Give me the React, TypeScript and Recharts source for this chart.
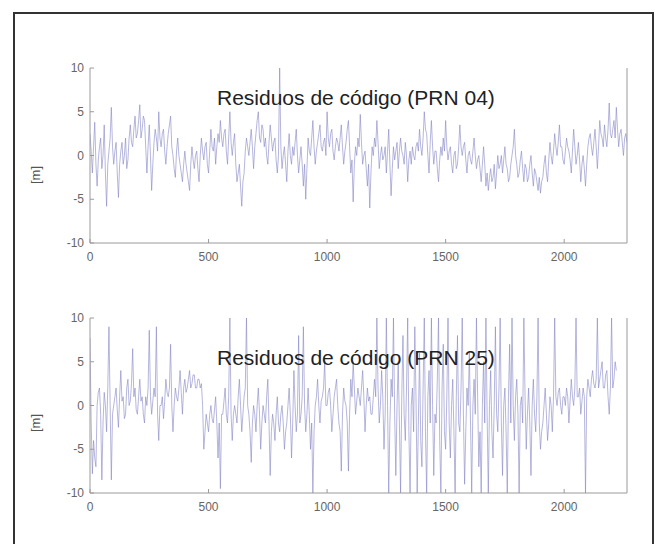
import { LineChart, Line, XAxis, YAxis } from 'recharts'

// residuos de código, una muestra cada EPOCH_STEP épocas
const EPOCH_STEP = 5
const X_MAX = 2265
const xTicks = [0, 500, 1000, 1500, 2000]
const yTicks = [-10, -5, 0, 5, 10]

const prn04 = [
  2.5, 0.5, -2, 1, 3.8, -1, -3.5, -0.5, 1, 2, -1.5, 0, 3.5, -2, -5.8, -1, 0.5, 2, 5.5, 1,
  -1, 0.5, 1.5, -2, -4.8, -1, 0.5, 1.5, -1, 0, 2, -1.5, -0.5, 2, 3.5, 1.5, 1, 3, 4.5, 2,
  2.5, 4, 5.8, 2, 3, 4.5, 4, 1, -2, 1, 3.5, 0, -4, -1, 1.5, 3, 2, 0.5, 5, 2,
  1, 2.5, 3, 0.5, -1, 1, 2.5, 3.5, 4.5, 1, 0, -1.5, -2.5, 0.5, 2, 0, -1, -2, -3, -1,
  0.5, -1, -2, -3, -4, -1, 1, -0.5, -1.5, 0, 0.5, -1.5, -3, 0, 2, 0.5, -0.5, 1, 1.5, -1,
  -2, 0.5, 3, 1, 0.5, 2, -1, 1, 2.5, 1.5, 4, 2, 1, 2.5, 3, 0.5, -1, 2, 5, 1.5,
  0, 1.5, 2.5, -1, -3, -2, -1, -3.5, -5.8, -3, -2, 0.5, 2, 1, 0, 1.5, 3, 1, -1.5, 1,
  2.5, 4, 5, 2, 1.5, 3.5, 3, 1, 2, 0, -1, 1.5, 3.5, 2, 0.5, 1.5, 2, -0.5, -2, 0,
  10, 1, -1.5, 0, 1, -1, -3, 0.5, 2.5, 0, -1, 1, 0, 1.5, 3, 0, -2, -0.5, 1, -1,
  -3.5, -1, -5, -1.5, 2, 0.5, 0, 2, 4, 1, -1, 0.5, 1.5, 2.5, 3.5, 1, 0.5, 1.5, 2, 0,
  5, 2, 1, 2.5, 3, 0.5, -0.5, 1, 2, 1.5, 0.5, 2, 3.5, 1, -1, 0.5, 1.5, 3, 4, 1,
  -2, -0.5, -5.3, -1, 1, 0, 2, 1, 4.7, 1.5, -1, 0, 0.5, -1.5, -3.5, -1, -6, -2, 1, 0,
  2, 1, 4, 1.5, -1.5, 0, 1, -0.5, 0, 1, -2, 0.5, 3, -1, -4.6, -1.5, 1, -0.5, 0.5, 1.5,
  -1.5, 0.5, 2, 0.5, 0, -1, 1.5, 0, -3, -0.5, 0.5, -1, 1, 0, -0.5, 1, 1.5, 0.5, 3, 1,
  0, 2, 5, 3, 2.5, 0, -2, 1.5, 4, 1, -1, 0.5, 0.5, -1.5, -3, -0.5, 1, 0, 2, 0.5,
  4, 1, -0.5, 0.5, 1, -1, -2, 0, 0.5, -1.5, -1, 1, 3.5, 1, 0, 1, 1.5, -0.5, -2, 0,
  0.5, -0.5, -1, 0.5, 2, 0, -1.5, -0.5, 0, -1.5, -3, -1, 1, -1, -3.5, -2, -4, -2.5, -1.5, -3,
  -2.5, -1, -3.8, -2, 0, -1.5, -1, 0, -2, -0.5, 1, -1, -1.5, -3, -2.5, -1, 0, 1, 3, 0,
  -1, -2.5, -2, -0.5, 0.5, -1.5, -3, -1, -1.5, -3, -2.5, -1, 0, -2, -3.5, -1.5, -2, -3, -4, -2.5,
  -4.3, -3, -2.5, -1, 0, -2, -3, -0.5, 1.5, 0, -1, 0.5, 2.5, 1, 0, 1.5, 3.5, 1, 1, -0.5,
  -1, 0.5, 2, 1, 0.5, -0.5, -2, 0.5, 3, 1, -1, 0, 1.5, -0.5, -3, -1, 0, -1.5, -3.5, -1,
  1, 2, 2.5, 1, 0, 1.5, 3, 1, -1.5, 1, 4, 2.5, 2, 1, 3.5, 2, 1, 3, 6, 2.5,
  2, 3, 4, 2, 5.5, 3, 1, 2.5, 3, 1.5, 0, 2, 2.5, 1.5,
]

const prn25 = [
  7.7, -2, -7.8, -4, -6, -7, 0, 1.5, 2, -1, -8.5, -2, 1.5, 0, -3, 2, 9, 0, -8.5, -1,
  0, 1, 2, -0.5, -2.5, 1, 4, 0.5, 1, -1.5, -1, 2, 3, 0, 0.5, 2.5, 6.5, 1, 2, -0.5,
  -1, 1, 3, 0.5, 1, -1, -2, 1, 0, 2, 8.6, 1, -1, 0.5, 2, 1, 9, -1, -4, 0,
  0, 1, -1.5, 0.5, 3, 1.5, 1, 2, 7, 0, -3, 0, 2, 1, 0.5, 2, 4, 1.5, -1, 2,
  3, 1.5, 2, 3, 4, 2, 2.5, 3.5, 3.5, 2, 2, 3, 3, 2, 2.5, 0, -5, -3, -1, -2,
  -3, -1, 0, -1.5, -2, -0.5, 1, -2, -6, -2, -9.5, -1, -1, 0.5, 2, -1, -2, 1, 10, -1,
  -4, -1, 0, -1, -2, 1, 3, 0, -3, -1, 1, 2, 10, 0, -1, -3, -6.5, -2, 0, -1,
  -3, 0, 2, -1, -5, -2, 0, -1, -2, 1, 3, -2, -8, -3, -1, -2, -4, -1, 1, -2,
  -3, -1, 0, -2, -5, -3, -2, 0, 2, -1, -6, -2, 4, 0, -3, -1, 8, -2, -1, 1,
  9, 0, -3, -1, 2, -1, -5, -2, -10, -3, 0, 1, 3, 0, -2, 0.5, 1, 2, 5, 0,
  0, 1.5, 2, 0, -3, -1, 1, 2, 3, 0, -2, -3, -7.5, -1, 2, 0.5, 0, -2, -7.5, -1,
  3, 1, 5, 2, -1, 0.5, 2, 1, 0, 2, 4, 1, -3, 0, 2, 0.5, 1, -1, -1, 1,
  3, 1, 10, 2, -2, 0, 4, 1, -5, -1, 10, 0, -10, -2, 3, 1, 10, -1, -8, 0,
  5, -2, -10, 1, 8, -1, -4, 2, 10, -3, -10, 0, 2, -3, 9, 1, -10, -2, 6, -4,
  -7, 2, 10, -3, -10, 1, 4, -2, 10, 0, -8, -1, -2, 3, 10, -4, -10, 2, 7, -3,
  -5, 1, 10, -2, -6, 0, 3, -3, -10, 1, 8, -2, -3, 2, 10, -1, -9, -3, 2, 0,
  6, -2, -10, 0, 3, -1, 10, 1, -7, -3, -10, 0, 5, -2, 10, -1, -10, 0, 4, -3,
  -6, 0, 9, -1, -3, 2, 10, -2, -8, 0, 2, -3, -10, 1, 7, -2, 10, 0, -4, 1,
  3, -1, -10, 0, 1, -2, 10, 1, -5, -1, 2, -2, -8, 0, 3, -1, -3, 1, 10, -2,
  -5, -3, -2, 0, 2, -1, -4, -2, 1, 0, -3, 1, 10, 1, 0, 1.5, 2, 0, -1, 1,
  1, 0, 2, 1, -2, 0.5, 3, 1, 0, 2, 10, 1, 1, 2, -1, 0.5, 2, 1, -10, 1,
  3, 2, 1, 3, 4, 2.5, 2, 3, 10, 2, 3, 4, 5, 2, 2, 3.5, 4, 1, -1, 2,
  10, 2, 3, 5, 4,
]

const FONT = '"Liberation Sans", Arial, Helvetica, sans-serif'
const AXIS_COLOR = '#9a9a9a'
const LABEL_COLOR = '#666'
const LINE_COLOR = '#8484c6'

function BottomTick({ x, y, payload }: any) {
  return (
    <g>
      <line x1={x} y1={y} x2={x} y2={y - 4} stroke={AXIS_COLOR} />
      <text x={x} y={y + 18} textAnchor="middle" fill={LABEL_COLOR} fontSize={12} fontFamily={FONT}>
        {payload.value}
      </text>
    </g>
  )
}

function TopTick({ x, y }: any) {
  return <line x1={x} y1={y} x2={x} y2={y + 4} stroke={AXIS_COLOR} />
}

function LeftTick({ x, y, payload }: any) {
  return (
    <g>
      <line x1={x} y1={y} x2={x + 4} y2={y} stroke={AXIS_COLOR} />
      <text x={x - 6} y={y + 4} textAnchor="end" fill={LABEL_COLOR} fontSize={12} fontFamily={FONT}>
        {payload.value}
      </text>
    </g>
  )
}

function RightTick({ x, y }: any) {
  return <line x1={x} y1={y} x2={x - 4} y2={y} stroke={AXIS_COLOR} />
}

function ResidualPlot({ values, top, title, titleTop, labelTop }: {
  values: number[]
  top: number
  title: string
  titleTop: number
  labelTop: number
}) {
  const data = values.map((v, i) => ({ epoch: i * EPOCH_STEP, res: v }))
  return (
    <div style={{ position: 'absolute', left: 0, top, width: 656, height: 280 }}>
      <LineChart width={656} height={280} data={data} margin={{ top: 68, right: 28, left: 50, bottom: 7 }}>
        <XAxis
          dataKey="epoch"
          type="number"
          domain={[0, X_MAX]}
          ticks={xTicks}
          allowDataOverflow
          height={30}
          stroke={AXIS_COLOR}
          tickLine={false}
          tickSize={0}
          tickMargin={0}
          tick={<BottomTick />}
        />
        <XAxis
          xAxisId="top"
          dataKey="epoch"
          type="number"
          orientation="top"
          domain={[0, X_MAX]}
          ticks={xTicks}
          allowDataOverflow
          height={0}
          stroke={AXIS_COLOR}
          tickLine={false}
          tickSize={0}
          tickMargin={0}
          tick={<TopTick />}
        />
        <YAxis
          type="number"
          domain={[-10, 10]}
          ticks={yTicks}
          allowDataOverflow
          width={40}
          stroke={AXIS_COLOR}
          tickLine={false}
          tickSize={0}
          tickMargin={0}
          tick={<LeftTick />}
        />
        <YAxis
          yAxisId="right"
          orientation="right"
          type="number"
          domain={[-10, 10]}
          ticks={yTicks}
          width={1}
          stroke={AXIS_COLOR}
          tickLine={false}
          tickSize={0}
          tickMargin={0}
          tick={<RightTick />}
        />
        <Line
          type="linear"
          dataKey="res"
          stroke={LINE_COLOR}
          strokeWidth={0.8}
          strokeOpacity={0.75}
          dot={false}
          isAnimationActive={false}
        />
      </LineChart>
      <div
        style={{
          position: 'absolute',
          left: 217,
          top: titleTop,
          fontFamily: FONT,
          fontSize: 21,
          lineHeight: '21px',
          color: '#222',
          whiteSpace: 'nowrap',
        }}
      >
        {title}
      </div>
      <div
        style={{
          position: 'absolute',
          left: 35,
          top: labelTop,
          transform: 'translate(-50%, -50%) rotate(-90deg)',
          fontFamily: FONT,
          fontSize: 13,
          color: '#555',
          whiteSpace: 'nowrap',
        }}
      >
        [m]
      </div>
    </div>
  )
}

export default function App() {
  return (
    <div
      style={{
        position: 'absolute',
        left: 0,
        top: 0,
        width: 656,
        height: 544,
        overflow: 'hidden',
        background: '#fff',
      }}
    >
      <div
        style={{
          position: 'absolute',
          left: 13,
          top: 12,
          width: 641,
          height: 560,
          border: '2px solid #333',
          boxSizing: 'border-box',
        }}
      />
      <ResidualPlot values={prn04} top={0} title="Residuos de código (PRN 04)" titleTop={87} labelTop={175} />
      <ResidualPlot values={prn25} top={250} title="Residuos de código (PRN 25)" titleTop={97} labelTop={173} />
    </div>
  )
}
